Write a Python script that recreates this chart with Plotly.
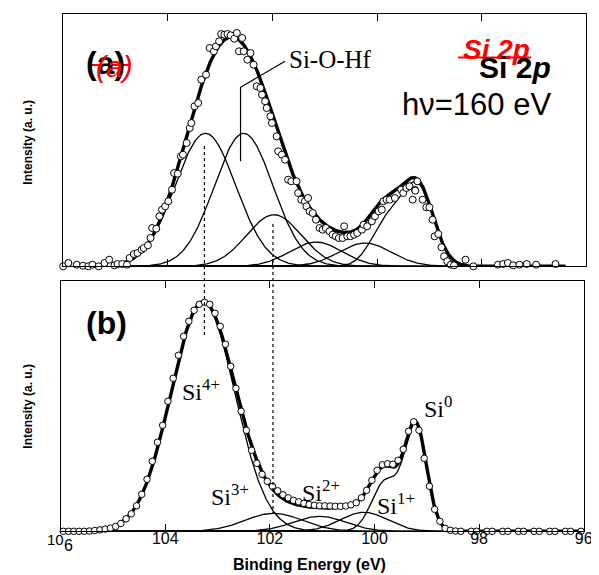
import numpy as np
import plotly.graph_objects as go

W, H = 599, 575

# ---------------- panel (a): measured points (binding energy eV, intensity a.u.) ----------------
be_a = [106.00, 105.90, 105.74, 105.62, 105.52, 105.44, 105.32, 105.21, 105.12, 105.02,
        104.96, 104.87, 104.78, 104.73, 104.65, 104.58, 104.50, 104.46, 104.38, 104.33,
        104.30, 104.22, 104.16, 104.11, 104.05, 103.99, 103.92, 103.88, 103.81, 103.75,
        103.71, 103.64, 103.58, 103.55, 103.49, 103.42, 103.36, 103.27, 103.20, 103.12,
        103.08, 103.02, 102.98, 102.92, 102.86, 102.80, 102.73, 102.68, 102.64, 102.58,
        102.55, 102.48, 102.42, 102.36, 102.30, 102.23, 102.20, 102.14, 102.11, 102.04,
        102.01, 101.92, 101.89, 101.82, 101.76, 101.70, 101.64, 101.54, 101.51, 101.45,
        101.38, 101.35, 101.32, 101.29, 101.23, 101.17, 101.10, 101.04, 100.98, 100.91,
        100.85, 100.79, 100.73, 100.66, 100.63, 100.57, 100.51, 100.44, 100.38, 100.29,
        100.26, 100.19, 100.10, 100.04, 99.97, 99.91, 99.88, 99.82, 99.76, 99.66,
        99.54, 99.50, 99.44, 99.38, 99.32, 99.28, 99.27, 99.23, 99.13, 99.06,
        99.00, 98.94, 98.90, 98.83, 98.77, 98.72, 98.66, 98.59, 98.53, 98.47,
        98.41, 98.34, 98.31, 98.25, 98.16, 98.06, 98.00, 97.92, 97.84, 97.75,
        97.69, 97.59, 97.50, 97.40, 97.34, 97.28, 97.22, 97.14, 97.06, 96.96,
        96.87, 96.78, 96.59, 96.46]
int_a = [0.0, 3.3, 1.6, 0.6, 0.0, 1.6, 0.0, 3.3, 6.6, 1.0,
         2.3, 2.3, 1.6, 8.3, 12.3, 13.3, 16.6, 18.3, 21.0, 28.3,
         38.3, 37.6, 50.0, 56.6, 60.0, 65.0, 76.6, 93.3, 92.6, 110.0,
         111.6, 123.3, 138.3, 143.3, 160.0, 163.3, 186.6, 191.6, 218.3, 215.0,
         220.0, 225.0, 232.3, 231.6, 232.3, 231.0, 227.6, 233.3, 215.0, 228.3,
         215.0, 206.6, 213.3, 201.6, 180.0, 178.3, 171.6, 165.0, 158.3, 150.0,
         143.3, 130.0, 115.0, 111.6, 106.6, 86.6, 85.0, 85.0, 73.3, 66.6,
         65.0, 60.0, 68.3, 55.0, 53.3, 46.6, 38.3, 36.6, 38.3, 35.0,
         31.6, 30.0, 28.3, 28.3, 40.0, 30.0, 30.0, 31.6, 33.3, 36.6,
         41.6, 40.0, 45.0, 50.0, 55.0, 56.6, 65.0, 66.6, 66.6, 68.3,
         76.6, 73.3, 78.3, 80.0, 66.6, 76.6, 75.6, 85.0, 66.6, 59.0,
         59.0, 46.6, 30.0, 32.3, 19.0, 10.0, 5.0, 1.6, 1.0, -1.0,
         -3.3, -2.3, 6.6, -1.6, 0.0, -1.6, -3.3, -1.0, -2.3, -1.0,
         1.6, 2.3, 3.3, 1.0, -1.6, 1.6, -1.6, 2.3, -2.3, 1.6,
         -1.6, -3.3, 2.3, -3.3]

# ---------------- panel (b): measured points ----------------
be_b = [105.95, 105.85, 105.75, 105.65, 105.55, 105.45, 105.35, 105.25, 105.15, 105.05,
        104.95, 104.85, 104.75, 104.65, 104.55, 104.45, 104.35, 104.25, 104.15, 104.05,
        103.95, 103.85, 103.75, 103.65, 103.55, 103.45, 103.35, 103.25, 103.15, 103.05,
        102.95, 102.85, 102.75, 102.65, 102.55, 102.45, 102.35, 102.25, 102.15, 102.05,
        101.95, 101.85, 101.75, 101.65, 101.55, 101.45, 101.35, 101.25, 101.15, 101.05,
        100.95, 100.85, 100.75, 100.65, 100.55, 100.45, 100.35, 100.25, 100.15, 100.05,
        99.95, 99.85, 99.75, 99.65, 99.55, 99.45, 99.35, 99.25, 99.15, 99.05,
        98.95, 98.85, 98.75, 98.65, 98.55, 98.45, 98.35, 98.25, 98.15, 98.05,
        97.95, 97.85, 97.75, 97.65, 97.55, 97.45, 97.35, 97.25, 97.15, 97.05,
        96.95, 96.85, 96.75, 96.65, 96.55, 96.45, 96.35, 96.25, 96.15, 96.05]
int_b = [0.0, 0.0, 0.0, 0.0, 0.0, 0.3, 0.8, 1.4, 2.2, 3.2,
         4.8, 7.8, 12.5, 17.5, 25.5, 37.0, 52.0, 70.0, 89.0, 106.0,
         130.0, 153.0, 176.0, 195.0, 210.0, 221.0, 227.0, 229.0, 227.0, 218.0,
         205.0, 187.0, 165.0, 143.0, 120.0, 101.0, 81.0, 68.0, 57.0, 50.0,
         45.0, 40.5, 36.5, 33.5, 31.0, 29.5, 28.0, 26.8, 26.0, 25.5,
         25.5, 25.3, 25.0, 25.0, 25.3, 26.5, 28.5, 33.5, 41.0, 51.0,
         61.0, 66.5, 67.5, 67.0, 71.0, 82.0, 100.0, 109.5, 101.0, 73.0,
         45.0, 22.0, 10.0, 3.0, 1.0, 0.3, 0.0, -0.3, 0.0, 0.0,
         -0.3, 0.0, 0.0, -0.3, 0.0, 0.0, -0.3, 0.0, 0.0, -0.3,
         0.0, 0.0, -0.3, 0.0, 0.0, -0.3, 0.0, 0.0, -0.3, 0.0]

# ---------------- fitted Gaussian components ----------------
# panel (a): Si4+, Si-O-Hf, Si3+, Si2+, Si1+, Si0 (doublet)
comp_a_center = [103.28, 102.55, 101.97, 101.17, 100.23, 99.22, 99.82]
comp_a_height = [133.0, 133.0, 51.6, 24.3, 23.3, 78.0, 42.0]
comp_a_sigma = [0.58, 0.56, 0.52, 0.50, 0.50, 0.30, 0.30]
comp_a_group = [0, 1, 2, 3, 4, 5, 5]
fit_a_range = [105.0, 96.4]

# panel (b): Si4+, Si3+, Si2+, Si1+, Si0 (doublet)
comp_b_center = [103.28, 101.93, 101.05, 100.20, 99.21, 99.79]
comp_b_height = [229.0, 18.0, 15.0, 19.0, 104.0, 50.0]
comp_b_sigma = [0.61, 0.55, 0.50, 0.45, 0.21, 0.26]
comp_b_group = [0, 1, 2, 3, 4, 4]
fit_b_range = [106.0, 96.0]

tick_vals = [106, 104, 102, 100, 98, 96]
tick_text = ["", "104", "102", "100", "98", "96"]

# ---------------- helpers ----------------
def px(x):
    return x / W

def py(y):
    return 1 - y / H

def components(centers, heights, sigmas, groups, rng):
    e = np.linspace(rng[0], rng[1], 600)
    ng = max(groups) + 1
    comps = [np.zeros_like(e) for _ in range(ng)]
    for c, h, s, g in zip(centers, heights, sigmas, groups):
        comps[g] += h * np.exp(-((e - c) ** 2) / (2 * s * s))
    return e, comps

fig = go.Figure()

thin = dict(color="black", width=1.3)
thick = dict(color="black", width=3.4)

for (cen, hei, sig, grp, rng, xa, ya, be, it, msize) in [
    (comp_a_center, comp_a_height, comp_a_sigma, comp_a_group, fit_a_range, "x", "y", be_a, int_a, 7),
    (comp_b_center, comp_b_height, comp_b_sigma, comp_b_group, fit_b_range, "x2", "y2", be_b, int_b, 6.5),
]:
    e, comps = components(cen, hei, sig, grp, rng)
    for c in comps:
        fig.add_trace(go.Scatter(x=e, y=c, mode="lines", line=thin, xaxis=xa, yaxis=ya,
                                 hoverinfo="skip"))
    fig.add_trace(go.Scatter(x=e, y=np.sum(comps, axis=0), mode="lines", line=thick,
                             xaxis=xa, yaxis=ya, hoverinfo="skip"))
    fig.add_trace(go.Scatter(x=be, y=it, mode="markers", xaxis=xa, yaxis=ya, cliponaxis=False,
                             marker=dict(symbol="circle", size=msize, color="white",
                                         line=dict(color="black", width=1))))

axis_common = dict(range=[106, 96], showgrid=False, zeroline=False, showline=True,
                   linecolor="black", linewidth=1, ticks="inside", ticklen=7,
                   tickcolor="black", tickwidth=1, mirror="ticks")
yaxis_common = dict(showgrid=False, zeroline=False, showline=True, linecolor="black",
                    linewidth=1, mirror=True, ticks="", showticklabels=False)

fig.update_layout(
    width=W, height=H, margin=dict(l=0, r=0, t=0, b=0),
    paper_bgcolor="white", plot_bgcolor="white", showlegend=False, hovermode=False,
    xaxis=dict(axis_common, domain=[px(56.0), px(587.2)], anchor="y",
               tickvals=tick_vals[1:-1], showticklabels=False),
    yaxis=dict(yaxis_common, domain=[py(258.3), py(5.7)], range=[0, 252.6], anchor="x"),
    xaxis2=dict(axis_common, domain=[px(53.5), px(584.5)], anchor="y2",
                tickvals=tick_vals, ticktext=tick_text, showticklabels=True,
                tickfont=dict(family="Liberation Sans, Arial", size=16, color="black"),
                ticklabelstandoff=-8),
    yaxis2=dict(yaxis_common, domain=[py(523.3), py(273.0)], range=[0, 250.3], anchor="x2"),
)

# dotted guide lines linking panels, leader of Si-O-Hf label, red strike lines
fig.add_shape(type="line", xref="x", yref="paper", x0=103.30, x1=103.30,
              y0=py(138), y1=py(328), line=dict(color="black", width=1.2, dash="dot"))
fig.add_shape(type="line", xref="x", yref="paper", x0=101.99, x1=101.99,
              y0=py(216), y1=py(505), line=dict(color="black", width=1.2, dash="dot"))
leader = [(101.76, 205.0), (102.61, 179.0), (102.61, 105.0)]
fig.add_shape(type="path", xref="x", yref="y",
              path="M {} {} L {} {} L {} {}".format(*[v for p in leader for v in p]),
              line=dict(color="black", width=1.2))

sans = "Liberation Sans, Arial"
serif = "Liberation Serif, Times New Roman"

def ann(text, x, y, size, family=sans, color="black", xanchor="center", yanchor="middle", angle=0):
    fig.add_annotation(text=text, x=px(x), y=py(y), xref="paper", yref="paper",
                       showarrow=False, xanchor=xanchor, yanchor=yanchor, textangle=angle,
                       font=dict(family=family, size=size, color=color))

ann("<b>(a)</b>", 99, 55, 32)
ann("<i>(a)</i>", 108, 58, 30, color="red")
fig.add_shape(type="line", xref="paper", yref="paper", x0=px(85), x1=px(123), y0=py(57), y1=py(57),
              line=dict(color="red", width=2))

ann("<b><i>Si 2p</i></b>", 496, 42, 28, color="red")
fig.add_shape(type="line", xref="paper", yref="paper", x0=px(457), x1=px(531), y0=py(49.5), y1=py(49.5),
              line=dict(color="red", width=2))
ann("<b>Si 2<i>p</i></b>", 515, 60, 30)
ann("hν=160 eV", 476, 97, 31)
ann("Si-O-Hf", 327, 51, 25, family=serif)

ann("<b>(b)</b>", 100, 315, 32)
ann("Si<sup>4+</sup>", 175, 382, 24, family=serif, xanchor="left")
ann("Si<sup>3+</sup>", 204, 487, 24, family=serif, xanchor="left")
ann("Si<sup>2+</sup>", 296, 483, 24, family=serif, xanchor="left")
ann("Si<sup>1+</sup>", 373, 496, 24, family=serif, xanchor="left")
ann("Si<sup>0</sup>", 420, 399, 24, family=serif, xanchor="left")

ann("<b>Intensity (a. u.)</b>", 20, 134, 12, angle=-90)
ann("<b>Intensity (a. u.)</b>", 20, 398, 12, angle=-90)
ann("<b>Binding Energy (eV)</b>", 306, 556, 16)
ann("10", 48, 531, 15)
ann("6", 61, 537, 16)

fig.write_html("out.html")
